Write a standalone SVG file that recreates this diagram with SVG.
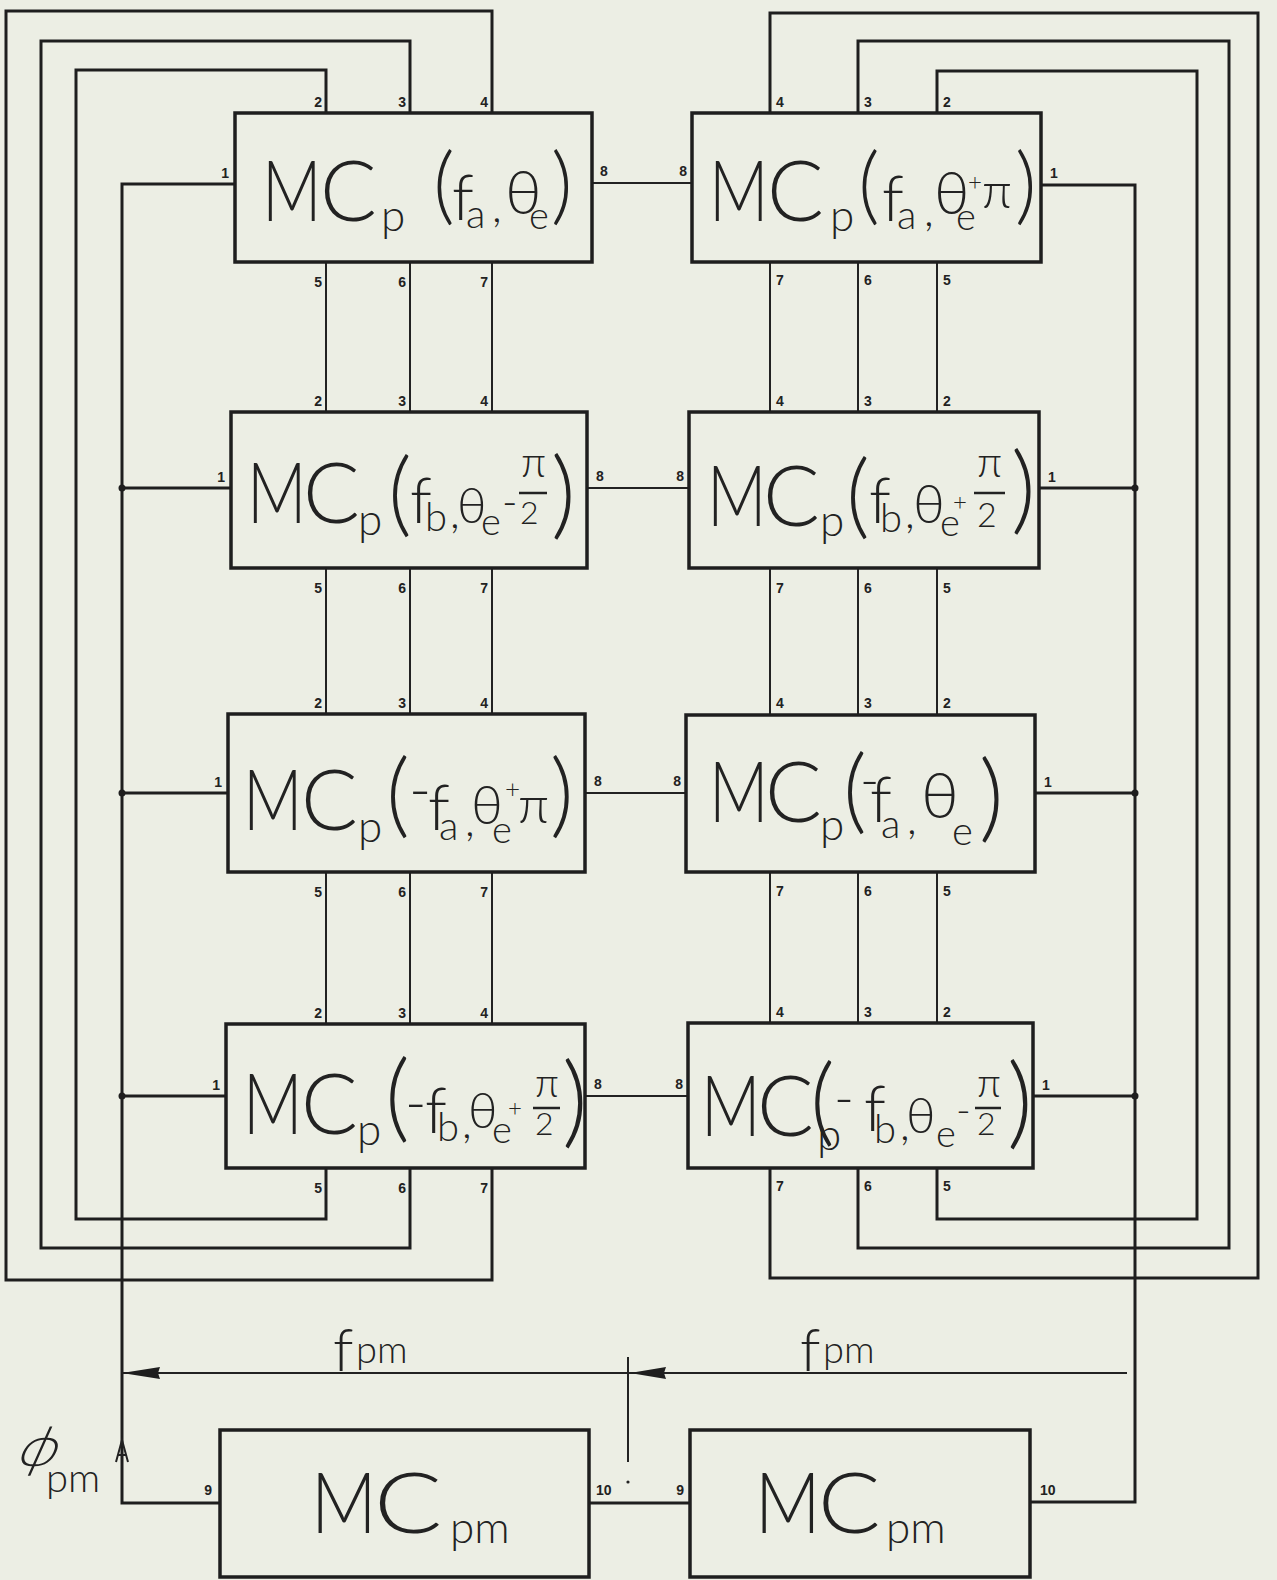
<svg xmlns="http://www.w3.org/2000/svg" width="1277" height="1580" viewBox="0 0 1277 1580">
<style>
.bx{fill:none;stroke:#1e1e1e;stroke-width:3.5}
.w{fill:none;stroke:#222;stroke-width:2}
.lp{fill:none;stroke:#1e1e1e;stroke-width:3}
.fb{stroke:#222;stroke-width:2.5}
.lab{font-family:Lato,'Liberation Sans',sans-serif;font-weight:300;fill:#222}
.m{font-size:84px}
.pin{font-family:'Liberation Sans',sans-serif;font-weight:bold;font-size:14px;fill:#222}
.pe{text-anchor:end}
</style>
<rect width="1277" height="1580" fill="#eceee4"/>
<g id="connectors">
<path class="lp" d="M492,113 V11 H6 V1280 H492 V1168"/>
<path class="lp" d="M410,113 V41 H41 V1248 H410 V1168"/>
<path class="lp" d="M326,113 V70 H76 V1219 H326 V1168"/>
<path class="lp" d="M770,113 V13 H1258 V1278 H770 V1168"/>
<path class="lp" d="M858,113 V41 H1229 V1248 H858 V1168"/>
<path class="lp" d="M937,113 V71 H1197 V1219 H937 V1168"/>
<path class="w" d="M326,262 V412 M410,262 V412 M492,262 V412 M326,568 V714 M410,568 V714 M492,568 V714 M326,872 V1024 M410,872 V1024 M492,872 V1024"/>
<path class="w" d="M770,262 V412 M858,262 V412 M937,262 V412 M770,568 V715 M858,568 V715 M937,568 V715 M770,872 V1023 M858,872 V1023 M937,872 V1023"/>
<path class="w" d="M592,183 H692 M587,488 H689 M585,793 H686 M585,1096 H688"/>
<path class="lp" d="M235,184 H122 V1503 H220 M122,488 H231 M122,793 H228 M122,1096 H226"/>
<path class="lp" d="M1041,185 H1135 V1502 H1030 M1039,488 H1135 M1035,793 H1135 M1033,1096 H1135"/>
<path class="lp" d="M589,1503 H690"/>
<circle cx="122" cy="488" r="3.5" fill="#1e1e1e"/>
<circle cx="122" cy="793" r="3.5" fill="#1e1e1e"/>
<circle cx="122" cy="1096" r="3.5" fill="#1e1e1e"/>
<circle cx="1135" cy="488" r="3.5" fill="#1e1e1e"/>
<circle cx="1135" cy="793" r="3.5" fill="#1e1e1e"/>
<circle cx="1135" cy="1096" r="3.5" fill="#1e1e1e"/>
<path class="w" d="M1127,1373 H122"/>
<polygon points="122,1373 160,1367 158,1373 160,1379" fill="#1e1e1e"/>
<polygon points="630,1373 666,1367 664,1373 666,1379" fill="#1e1e1e"/>
<path class="w" d="M628,1357 V1462"/>
<circle cx="628" cy="1482" r="1.6" fill="#222"/>
<path class="w" d="M116,1462 L122,1440 L128,1462 M118,1455 H126"/>
</g>
<g id="L1">
<rect class="bx" x="235" y="113" width="357" height="149"/>
<text class="lab m" transform="translate(262,221) scale(0.78,1)">M</text>
<text class="lab"><tspan x="320" y="221" font-size="84">C</tspan><tspan x="381" y="231" font-size="44">p</tspan><tspan x="433" y="214" font-size="84">(</tspan><tspan x="452" y="220" font-size="64">f</tspan><tspan x="466" y="228" font-size="40">a</tspan><tspan x="492" y="222" font-size="44">,</tspan><tspan x="505" y="214" font-size="62">θ</tspan><tspan x="529" y="229" font-size="38">e</tspan><tspan x="551" y="214" font-size="84">)</tspan></text>
<text class="pin pe" x="322" y="107">2</text><text class="pin pe" x="406" y="107">3</text><text class="pin pe" x="488" y="107">4</text>
<text class="pin pe" x="322" y="287">5</text><text class="pin pe" x="406" y="287">6</text><text class="pin pe" x="488" y="287">7</text>
<text class="pin pe" x="229" y="178">1</text><text class="pin" x="600" y="176">8</text>
</g>
<g id="R1">
<rect class="bx" x="692" y="113" width="349" height="149"/>
<text class="lab m" transform="translate(709,221) scale(0.78,1)">M</text>
<text class="lab"><tspan x="767" y="221" font-size="84">C</tspan><tspan x="830" y="231" font-size="44">p</tspan><tspan x="858" y="214" font-size="84">(</tspan><tspan x="882" y="221" font-size="64">f</tspan><tspan x="897" y="229" font-size="40">a</tspan><tspan x="924" y="226" font-size="44">,</tspan><tspan x="934" y="214" font-size="60">θ</tspan><tspan x="956" y="230" font-size="38">e</tspan><tspan x="968" y="190" font-size="24">+</tspan><tspan x="982" y="208" font-size="50">π</tspan><tspan x="1015" y="214" font-size="84">)</tspan></text>
<text class="pin" x="776" y="107">4</text><text class="pin" x="864" y="107">3</text><text class="pin" x="943" y="107">2</text>
<text class="pin" x="776" y="285">7</text><text class="pin" x="864" y="285">6</text><text class="pin" x="943" y="285">5</text>
<text class="pin" x="1050" y="178">1</text><text class="pin pe" x="687" y="176">8</text>
</g>
<g id="L2">
<rect class="bx" x="231" y="412" width="356" height="156"/>
<text class="lab m" transform="translate(247,523) scale(0.78,1)">M</text>
<text class="lab"><tspan x="303" y="523" font-size="84">C</tspan><tspan x="358" y="535" font-size="44">p</tspan><tspan x="388" y="525" font-size="92">(</tspan><tspan x="410" y="523" font-size="64">f</tspan><tspan x="425" y="531" font-size="40">b</tspan><tspan x="450" y="528" font-size="44">,</tspan><tspan x="457" y="523" font-size="50">θ</tspan><tspan x="481" y="535" font-size="38">e</tspan><tspan x="502" y="516" font-size="42">-</tspan><tspan x="521" y="477" font-size="42">π</tspan><tspan x="520" y="524" font-size="32">2</tspan><tspan x="551" y="527" font-size="96">)</tspan></text>
<line class="fb" x1="519" y1="493" x2="547" y2="493"/>
<text class="pin pe" x="322" y="406">2</text><text class="pin pe" x="406" y="406">3</text><text class="pin pe" x="488" y="406">4</text>
<text class="pin pe" x="322" y="593">5</text><text class="pin pe" x="406" y="593">6</text><text class="pin pe" x="488" y="593">7</text>
<text class="pin pe" x="225" y="482">1</text><text class="pin" x="596" y="481">8</text>
</g>
<g id="R2">
<rect class="bx" x="689" y="412" width="350" height="156"/>
<text class="lab m" transform="translate(707,526) scale(0.78,1)">M</text>
<text class="lab"><tspan x="763" y="526" font-size="84">C</tspan><tspan x="820" y="536" font-size="44">p</tspan><tspan x="846" y="527" font-size="92">(</tspan><tspan x="869" y="523" font-size="64">f</tspan><tspan x="880" y="532" font-size="40">b</tspan><tspan x="905" y="528" font-size="44">,</tspan><tspan x="913" y="523" font-size="54">θ</tspan><tspan x="940" y="536" font-size="38">e</tspan><tspan x="953" y="510" font-size="24">+</tspan><tspan x="977" y="477" font-size="42">π</tspan><tspan x="977" y="527" font-size="34">2</tspan><tspan x="1011" y="522" font-size="96">)</tspan></text>
<line class="fb" x1="974" y1="493" x2="1005" y2="493"/>
<text class="pin" x="776" y="406">4</text><text class="pin" x="864" y="406">3</text><text class="pin" x="943" y="406">2</text>
<text class="pin" x="776" y="593">7</text><text class="pin" x="864" y="593">6</text><text class="pin" x="943" y="593">5</text>
<text class="pin" x="1048" y="482">1</text><text class="pin pe" x="684" y="481">8</text>
</g>
<g id="L3">
<rect class="bx" x="228" y="714" width="357" height="158"/>
<text class="lab m" transform="translate(243,830) scale(0.78,1)">M</text>
<text class="lab"><tspan x="301" y="830" font-size="84">C</tspan><tspan x="358" y="842" font-size="44">p</tspan><tspan x="386" y="826" font-size="92">(</tspan><tspan x="409" y="810" font-size="60">-</tspan><tspan x="428" y="830" font-size="64">f</tspan><tspan x="439" y="840" font-size="40">a</tspan><tspan x="465" y="836" font-size="44">,</tspan><tspan x="471" y="824" font-size="54">θ</tspan><tspan x="492" y="843" font-size="38">e</tspan><tspan x="505" y="798" font-size="26">+</tspan><tspan x="518" y="823" font-size="52">π</tspan><tspan x="550" y="826" font-size="92">)</tspan></text>
<text class="pin pe" x="322" y="708">2</text><text class="pin pe" x="406" y="708">3</text><text class="pin pe" x="488" y="708">4</text>
<text class="pin pe" x="322" y="897">5</text><text class="pin pe" x="406" y="897">6</text><text class="pin pe" x="488" y="897">7</text>
<text class="pin pe" x="222" y="787">1</text><text class="pin" x="594" y="786">8</text>
</g>
<g id="R3">
<rect class="bx" x="686" y="715" width="349" height="157"/>
<text class="lab m" transform="translate(709,822) scale(0.78,1)">M</text>
<text class="lab"><tspan x="765" y="822" font-size="84">C</tspan><tspan x="820" y="840" font-size="44">p</tspan><tspan x="843" y="822" font-size="92">(</tspan><tspan x="860" y="798" font-size="52">-</tspan><tspan x="870" y="822" font-size="64">f</tspan><tspan x="881" y="838" font-size="40">a</tspan><tspan x="907" y="834" font-size="44">,</tspan><tspan x="921" y="818" font-size="64">θ</tspan><tspan x="952" y="845" font-size="40">e</tspan><tspan x="979" y="830" font-size="96">)</tspan></text>
<text class="pin" x="776" y="708">4</text><text class="pin" x="864" y="708">3</text><text class="pin" x="943" y="708">2</text>
<text class="pin" x="776" y="896">7</text><text class="pin" x="864" y="896">6</text><text class="pin" x="943" y="896">5</text>
<text class="pin" x="1044" y="787">1</text><text class="pin pe" x="681" y="786">8</text>
</g>
<g id="L4">
<rect class="bx" x="226" y="1024" width="359" height="144"/>
<text class="lab m" transform="translate(243,1134) scale(0.78,1)">M</text>
<text class="lab"><tspan x="301" y="1134" font-size="84">C</tspan><tspan x="357" y="1145" font-size="44">p</tspan><tspan x="385" y="1130" font-size="96">(</tspan><tspan x="405" y="1123" font-size="58">-</tspan><tspan x="425" y="1133" font-size="64">f</tspan><tspan x="437" y="1141" font-size="40">b</tspan><tspan x="462" y="1138" font-size="44">,</tspan><tspan x="468" y="1128" font-size="50">θ</tspan><tspan x="492" y="1143" font-size="38">e</tspan><tspan x="508" y="1116" font-size="24">+</tspan><tspan x="535" y="1097" font-size="40">π</tspan><tspan x="535" y="1135" font-size="32">2</tspan><tspan x="562" y="1135" font-size="100">)</tspan></text>
<line class="fb" x1="533" y1="1108" x2="560" y2="1108"/>
<text class="pin pe" x="322" y="1018">2</text><text class="pin pe" x="406" y="1018">3</text><text class="pin pe" x="488" y="1018">4</text>
<text class="pin pe" x="322" y="1193">5</text><text class="pin pe" x="406" y="1193">6</text><text class="pin pe" x="488" y="1193">7</text>
<text class="pin pe" x="220" y="1090">1</text><text class="pin" x="594" y="1089">8</text>
</g>
<g id="R4">
<rect class="bx" x="688" y="1023" width="345" height="145"/>
<text class="lab m" transform="translate(701,1136) scale(0.78,1)">M</text>
<text class="lab"><tspan x="757" y="1136" font-size="84">C</tspan><tspan x="817" y="1150" font-size="44">p</tspan><tspan x="810" y="1134" font-size="96">(</tspan><tspan x="834" y="1117" font-size="54">-</tspan><tspan x="864" y="1131" font-size="64">f</tspan><tspan x="874" y="1143" font-size="40">b</tspan><tspan x="900" y="1140" font-size="44">,</tspan><tspan x="906" y="1133" font-size="50">θ</tspan><tspan x="936" y="1147" font-size="38">e</tspan><tspan x="956" y="1124" font-size="40">-</tspan><tspan x="977" y="1097" font-size="40">π</tspan><tspan x="977" y="1135" font-size="32">2</tspan><tspan x="1007" y="1136" font-size="100">)</tspan></text>
<line class="fb" x1="975" y1="1108" x2="1001" y2="1108"/>
<text class="pin" x="776" y="1017">4</text><text class="pin" x="864" y="1017">3</text><text class="pin" x="943" y="1017">2</text>
<text class="pin" x="776" y="1191">7</text><text class="pin" x="864" y="1191">6</text><text class="pin" x="943" y="1191">5</text>
<text class="pin" x="1042" y="1090">1</text><text class="pin pe" x="683" y="1089">8</text>
</g>
<g id="MCpmL">
<rect class="bx" x="220" y="1430" width="369" height="147"/>
<text class="lab m" transform="translate(311,1533) scale(0.86,1)">M</text>
<text class="lab m" transform="translate(374,1533) scale(1.2,1)">C</text>
<text class="lab"><tspan x="450" y="1543" font-size="44">pm</tspan></text>
<text class="pin pe" x="212" y="1495">9</text><text class="pin" x="596" y="1495">10</text>
</g>
<g id="MCpmR">
<rect class="bx" x="690" y="1430" width="340" height="147"/>
<text class="lab m" transform="translate(755,1533) scale(0.86,1)">M</text>
<text class="lab m" transform="translate(818,1533) scale(1.1,1)">C</text>
<text class="lab"><tspan x="886" y="1543" font-size="44">pm</tspan></text>
<text class="pin pe" x="684" y="1495">9</text><text class="pin" x="1040" y="1495">10</text>
</g>
<g id="labels">
<text class="lab"><tspan x="333" y="1371" font-size="60">f</tspan><tspan x="356" y="1363" font-size="38">pm</tspan></text>
<text class="lab"><tspan x="800" y="1371" font-size="60">f</tspan><tspan x="823" y="1363" font-size="38">pm</tspan></text>
<text class="lab" font-size="56" transform="translate(14,1466) skewX(-24)">ϕ</text>
<text class="lab"><tspan x="46" y="1492" font-size="40">pm</tspan></text>
</g>
</svg>
